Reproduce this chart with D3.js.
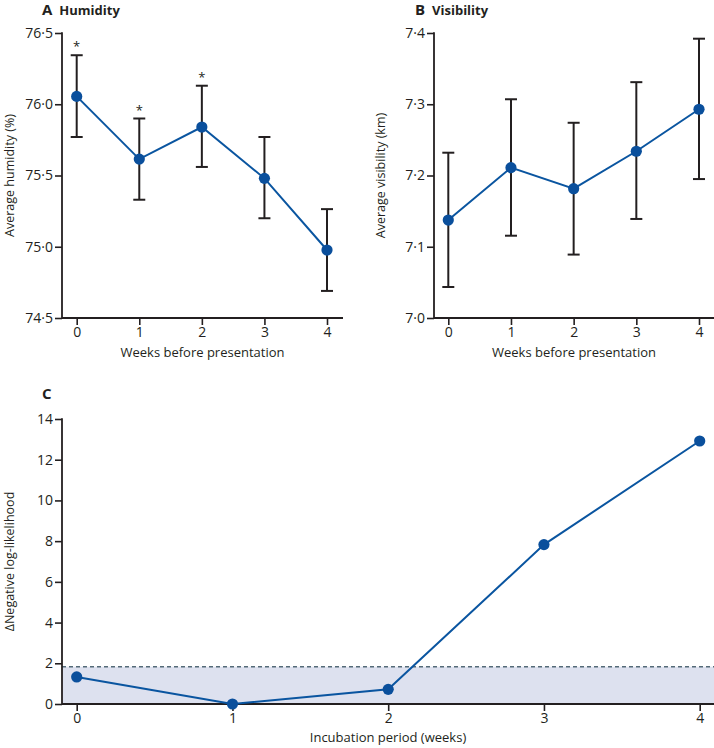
<!DOCTYPE html>
<html><head><meta charset="utf-8">
<script src="https://cdn.jsdelivr.net/npm/d3@7"></script>
<style>
body{margin:0;background:#fff;}
text{font-family:"Open Sans",sans-serif;fill:#231f20;}
</style></head>
<body><svg id="c" width="714" height="748"></svg>
<script>
const weeks = [0,1,2,3,4];
const humidityMean = [76.055, 75.615, 75.84, 75.48, 74.977];
const humidityLow  = [75.77, 75.33, 75.56, 75.20, 74.69];
const humidityHigh = [76.344, 75.90, 76.13, 75.77, 75.264];
const humiditySig  = [true, true, true, false, false];
const humidityTicks = [74.5, 75.0, 75.5, 76.0, 76.5];

const visMean = [7.1375, 7.211, 7.1815, 7.234, 7.293];
const visLow  = [7.0435, 7.1155, 7.089, 7.139, 7.195];
const visHigh = [7.232, 7.307, 7.274, 7.331, 7.392];
const visTicks = [7.0, 7.1, 7.2, 7.3, 7.4];

const incubation = [0,1,2,3,4];
const nll = [1.33, 0, 0.72, 7.83, 12.92];
const nllThreshold = 1.83;
const nllTicks = [0,2,4,6,8,10,12,14];

const BLUE = "#0a55a0", DOT="#0a4f9c", INK="#231f20";
const svg = d3.select("#c");
const fmt1 = d => d3.format(".1f")(d).replace(".", "\u00b7");

function axes(g, x, y, x0, x1, yTicks, yFmt, xTitle, yTitle, yTitleX, xTitleY){
  const [yb, yt] = y.range();
  const ya = g.append("g").attr("transform",`translate(${x0},0)`)
    .call(d3.axisLeft(y).tickValues(yTicks).tickFormat(yFmt).tickSize(7).tickSizeOuter(0));
  ya.select(".domain").remove();
  ya.selectAll("line").attr("stroke",INK).attr("stroke-width",1.6);
  ya.selectAll("text").attr("font-size",14).attr("x",-9).style("fill",INK).attr("font-family","Open Sans");
  g.append("line").attr("x1",x0).attr("x2",x0).attr("y1",yt-0.8).attr("y2",yb+0.8).attr("stroke",INK).attr("stroke-width",1.8);
  const xa = g.append("g").attr("transform",`translate(0,${yb})`)
    .call(d3.axisBottom(x).tickValues(weeks).tickFormat(d3.format("d")).tickSize(7).tickSizeOuter(0));
  xa.select(".domain").remove();
  xa.selectAll("line").attr("stroke",INK).attr("stroke-width",1.6);
  xa.selectAll("text").attr("font-size",14).attr("y",9).style("fill",INK).attr("font-family","Open Sans");
  g.append("line").attr("x1",x0).attr("x2",x1).attr("y1",yb).attr("y2",yb).attr("stroke",INK).attr("stroke-width",1.8);
  g.append("text").attr("x",(x0+x1)/2 + (xTitleY.dx||0)).attr("y",xTitleY.y).attr("text-anchor","middle").attr("font-size",13).text(xTitle);
  g.append("text").attr("transform",`translate(${yTitleX},${(yb+yt)/2}) rotate(-90)`).attr("text-anchor","middle").attr("font-size",12.5).text(yTitle);
}

function errPanel(x, y, mean, lo, hi, sig){
  const g = svg.append("g");
  weeks.forEach((w,i)=>{
    const cx = x(w);
    g.append("line").attr("x1",cx).attr("x2",cx).attr("y1",y(lo[i])).attr("y2",y(hi[i])).attr("stroke",INK).attr("stroke-width",2);
    [lo[i],hi[i]].forEach(v=>g.append("line").attr("x1",cx-6).attr("x2",cx+6).attr("y1",y(v)).attr("y2",y(v)).attr("stroke",INK).attr("stroke-width",2));
    if(sig && sig[i]) g.append("text").attr("x",cx).attr("y",y(hi[i])-4).attr("text-anchor","middle").attr("font-size",13).text("*");
  });
  g.append("path").datum(weeks).attr("fill","none").attr("stroke",BLUE).attr("stroke-width",2)
    .attr("d",d3.line().x(w=>x(w)).y((w,i)=>y(mean[i])));
  g.selectAll("circle").data(weeks).join("circle").attr("cx",w=>x(w)).attr("cy",(w,i)=>y(mean[i])).attr("r",5.6).attr("fill",DOT);
}

function title(x, y, letter, name){
  const t = svg.append("text").attr("x",x).attr("y",y);
  t.append("tspan").attr("font-size",15).attr("font-weight","bold").text(letter);
  if(name) t.append("tspan").attr("dx",7).attr("font-size",13).attr("font-weight","bold").text(name);
}

// Panel A
const xA = d3.scaleLinear().domain([0,4]).range([76.7,327]);
const yA = d3.scaleLinear().domain([74.5,76.5]).range([318,33]);
axes(svg.append("g"), xA, yA, 62, 343, humidityTicks, fmt1, "Weeks before presentation", "Average humidity (%)", 14, {y:357, dx:0});
errPanel(xA, yA, humidityMean, humidityLow, humidityHigh, humiditySig);
title(42, 15, "A", "Humidity");

// Panel B
const xB = d3.scaleLinear().domain([0,4]).range([448.3,699]);
const yB = d3.scaleLinear().domain([7.0,7.4]).range([318,33]);
axes(svg.append("g"), xB, yB, 434, 714, visTicks, fmt1, "Weeks before presentation", "Average visibility (km)", 385, {y:357, dx:0});
errPanel(xB, yB, visMean, visLow, visHigh, null);
title(415, 15, "B", "Visibility");

// Panel C
const xC = d3.scaleLinear().domain([0,4]).range([76.7,699.7]);
const yC = d3.scaleLinear().domain([0,14]).range([704,419]);
const gC = svg.append("g");
gC.append("rect").attr("x",62).attr("width",714-62).attr("y",yC(nllThreshold)).attr("height",yC(0)-yC(nllThreshold)).attr("fill","#dde1ef");
gC.append("line").attr("x1",62).attr("x2",714).attr("y1",yC(nllThreshold)).attr("y2",yC(nllThreshold))
  .attr("stroke","#546a78").attr("stroke-width",1.5).attr("stroke-dasharray","4,3");
axes(gC, xC, yC, 62, 714, nllTicks, d3.format("d"), "Incubation period (weeks)", "\u0394Negative log-likelihood", 14, {y:742, dx:0});
gC.append("path").datum(incubation).attr("fill","none").attr("stroke",BLUE).attr("stroke-width",2)
  .attr("d",d3.line().x(w=>xC(w)).y((w,i)=>yC(nll[i])));
gC.selectAll("circle").data(incubation).join("circle").attr("cx",w=>xC(w)).attr("cy",(w,i)=>yC(nll[i])).attr("r",5.6).attr("fill",DOT);
title(42, 399, "C", null);
</script></body></html>
